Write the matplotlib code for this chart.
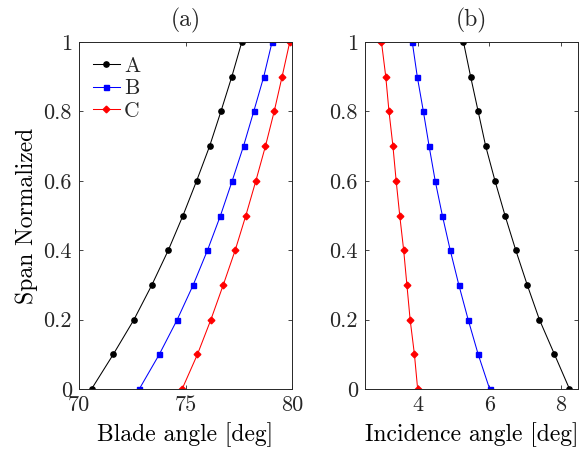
import numpy as np
import matplotlib
matplotlib.use("Agg")
import matplotlib.pyplot as plt

plt.rcParams["font.family"] = ["serif"]
plt.rcParams["font.serif"] = ["cmr10", "DejaVu Serif"]
plt.rcParams["axes.formatter.use_mathtext"] = True
plt.rcParams["mathtext.fontset"] = "cm"
plt.rcParams["text.color"] = "0.15"

span = [0, 0.1, 0.2, 0.3, 0.4, 0.5, 0.6, 0.7, 0.8, 0.9, 1.0]

# blade angle [deg]
blade_A = [70.59, 71.61, 72.58, 73.42, 74.19, 74.88, 75.52, 76.13, 76.66, 77.17, 77.64]
blade_B = [72.83, 73.77, 74.61, 75.36, 76.03, 76.64, 77.19, 77.72, 78.20, 78.67, 79.06]
blade_C = [74.84, 75.56, 76.19, 76.77, 77.33, 77.83, 78.30, 78.75, 79.16, 79.53, 79.89]

# incidence angle [deg]
inc_A = [8.24, 7.82, 7.40, 7.06, 6.74, 6.44, 6.16, 5.90, 5.69, 5.48, 5.28]
inc_B = [6.01, 5.69, 5.41, 5.15, 4.91, 4.69, 4.49, 4.32, 4.16, 3.99, 3.85]
inc_C = [4.00, 3.91, 3.79, 3.70, 3.61, 3.50, 3.40, 3.31, 3.20, 3.11, 2.99]

labels = ["A", "B", "C"]
colors = ["black", "blue", "red"]
markers = ["o", "s", "D"]
msizes = [3.8, 3.6, 3.4]

fig = plt.figure(figsize=(5.87, 4.5), dpi=100)
ax1 = fig.add_axes([0.1346, 0.1356, 0.363, 0.771])
ax2 = fig.add_axes([0.6218, 0.1356, 0.363, 0.771])

for x, lab, c, m, ms in zip([blade_A, blade_B, blade_C], labels, colors, markers, msizes):
    ax1.plot(x, span, color=c, marker=m, markersize=ms, linewidth=0.75, label=lab)
for x, c, m, ms in zip([inc_A, inc_B, inc_C], colors, markers, msizes):
    ax2.plot(x, span, color=c, marker=m, markersize=ms, linewidth=0.75)

ax1.set_xlim(70, 80)
ax1.set_xticks([70, 75, 80])
ax2.set_xlim(2.53, 8.48)
ax2.set_xticks([4, 6, 8])

for ax in (ax1, ax2):
    ax.set_ylim(0, 1)
    ax.set_yticks([0, 0.2, 0.4, 0.6, 0.8, 1])
    ax.set_yticklabels(["0", "0.2", "0.4", "0.6", "0.8", "1"])
    ax.tick_params(direction="in", top=True, right=True, labelsize=16,
                   length=3, width=0.6, colors="0.15", pad=5)
    for s in ax.spines.values():
        s.set_linewidth(0.7)
        s.set_color("0.15")

ax1.set_xticklabels(["70", "75", "80"])
ax2.set_xticklabels(["4", "6", "8"])

ax1.set_title("(a)", fontsize=17, pad=11)
ax2.set_title("(b)", fontsize=17, pad=11)
ax1.set_xlabel("Blade angle [deg]", fontsize=17, labelpad=5)
ax2.set_xlabel("Incidence angle [deg]", fontsize=17, labelpad=5)
ax1.set_ylabel("Span Normalized", fontsize=17, labelpad=4)

ax1.legend(loc="upper left", frameon=False, fontsize=15.5, handlelength=1.25,
           handletextpad=0.2, labelspacing=0.15, borderaxespad=0.35,
           borderpad=0.3)

fig.savefig("out.png", dpi=100)
